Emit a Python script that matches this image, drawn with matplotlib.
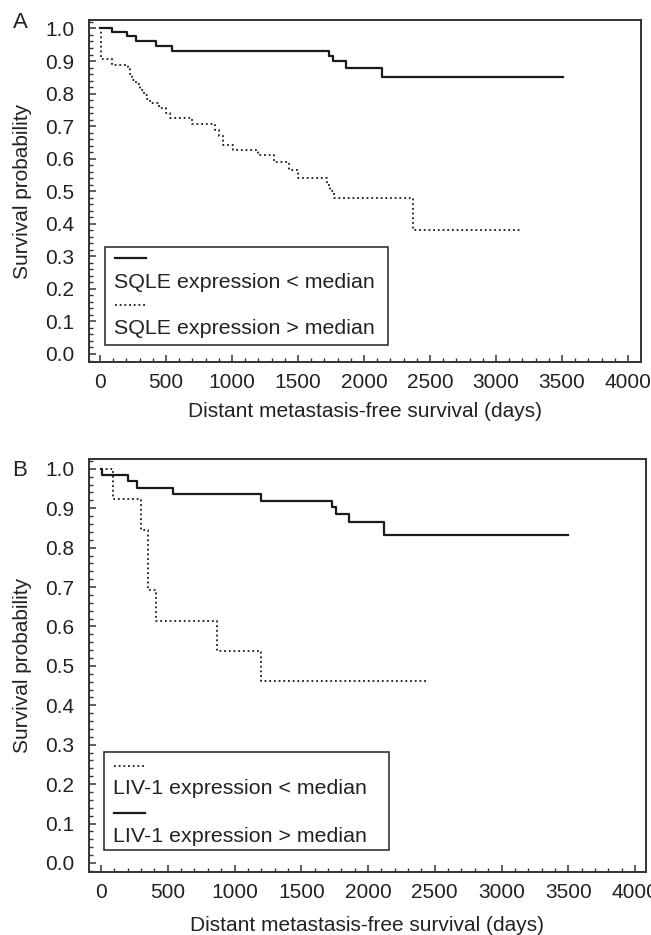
import matplotlib
matplotlib.use("Agg")
import matplotlib.pyplot as plt
from matplotlib.patches import Rectangle
from matplotlib.lines import Line2D
from matplotlib.ticker import MultipleLocator, FormatStrFormatter

plt.rcParams['font.family'] = ['Liberation Sans', 'DejaVu Sans']

# ---------------- data (Kaplan-Meier steps, days / survival probability) ----
sqle_low_t = [0, 88, 202, 273, 422, 543, 1737, 1768, 1861, 2134, 3510]
sqle_low_s = [1.0, 0.990, 0.976, 0.961, 0.946, 0.932, 0.915, 0.899, 0.879, 0.850, 0.850]

sqle_high_t = [0, 10, 88, 210, 225, 245, 275, 300, 330, 355, 380, 450, 500, 530,
               700, 870, 900, 935, 1010, 1200, 1320, 1430, 1500, 1720, 1745,
               1775, 2370, 3190]
sqle_high_s = [1.0, 0.905, 0.887, 0.874, 0.858, 0.843, 0.828, 0.812, 0.797, 0.782,
               0.771, 0.756, 0.741, 0.725, 0.708, 0.689, 0.669, 0.641, 0.626,
               0.610, 0.590, 0.566, 0.541, 0.520, 0.500, 0.478, 0.380, 0.380]

liv_high_t = [0, 5, 205, 267, 537, 1196, 1733, 1760, 1860, 2122, 3500]
liv_high_s = [1.0, 0.985, 0.968, 0.951, 0.936, 0.919, 0.904, 0.885, 0.864, 0.832, 0.832]

liv_low_t = [0, 92, 297, 354, 412, 871, 1199, 2450]
liv_low_s = [1.0, 0.923, 0.846, 0.692, 0.615, 0.538, 0.462, 0.462]

panel_letters = ["A", "B"]
legend_a = ["SQLE expression < median", "SQLE expression > median"]
legend_b = ["LIV-1 expression < median", "LIV-1 expression > median"]
xlabel = "Distant metastasis-free survival (days)"
ylabel = "Survival probability"

FS = 15
LFS = 15.4
TXT_C = "#222222"
LINE_C = "#1a1a1a"
SPINE_C = "#333333"
solid_style = dict(color=LINE_C, lw=1.6, linestyle='-')
dot_style = dict(color=LINE_C, lw=1.3, linestyle=(0, (1, 1.6)))

fig = plt.figure(figsize=(6.51, 9.35), dpi=100)
W, H = 651, 935

def make_axes(left, right, top, bottom):
    ax = fig.add_axes([left / W, 1 - bottom / H, (right - left) / W, (bottom - top) / H])
    ax._px = (left, right, top, bottom)
    return ax

axA = make_axes(89, 641, 20, 362)
axB = make_axes(89, 646, 459, 872)

def style(ax, xlim, ylim, xlabelpad):
    ax.set_xlim(*xlim)
    ax.set_ylim(*ylim)
    ax.xaxis.set_major_locator(MultipleLocator(500))
    ax.xaxis.set_minor_locator(MultipleLocator(100))
    ax.yaxis.set_major_locator(MultipleLocator(0.1))
    ax.yaxis.set_minor_locator(MultipleLocator(0.02))
    ax.yaxis.set_major_formatter(FormatStrFormatter('%.1f'))
    ax.tick_params(which='both', direction='in', color=SPINE_C, labelsize=FS,
                   labelcolor=TXT_C, top=False, right=False)
    ax.tick_params(which='major', length=5, width=1.1)
    ax.tick_params(which='minor', length=2.6, width=1.0)
    ax.tick_params(axis='x', which='major', pad=8)
    ax.tick_params(axis='y', which='major', pad=10.5)
    for sp in ax.spines.values():
        sp.set_color(SPINE_C)
        sp.set_linewidth(1.4)
    ax.set_xlabel(xlabel, fontsize=FS, color=TXT_C, labelpad=xlabelpad)
    ax.set_ylabel(ylabel, fontsize=FS, color=TXT_C)

style(axA, (-83, 4098), (-0.0246, 1.026), 7)
style(axB, (-90, 4082), (-0.023, 1.025), 10)

axA.yaxis.set_label_coords(-0.103, 0.5)
axB.yaxis.set_label_coords(-0.102, 0.5)

# panel A curves
axA.step(sqle_low_t, sqle_low_s, where='post', **solid_style)
axA.step(sqle_high_t, sqle_high_s, where='post', **dot_style)
# panel B curves
axB.step(liv_low_t, liv_low_s, where='post', **dot_style)
axB.step(liv_high_t, liv_high_s, where='post', **solid_style)


def manual_legend(ax, box, entries):
    """box = (left, top, right, bottom) in figure pixels; entries = list of
    (style, label, handle_y_px, text_y_px)."""
    l, r, t, b = ax._px
    def ac(px, py):
        return ((px - l) / (r - l), (b - py) / (b - t))
    bl, bt, br, bb = box
    x0, y0 = ac(bl, bb)
    x1, y1 = ac(br, bt)
    ax.add_patch(Rectangle((x0, y0), x1 - x0, y1 - y0, transform=ax.transAxes,
                           facecolor='white', edgecolor=TXT_C, lw=1.1, zorder=5))
    hx0 = bl + 10
    hx1 = bl + 41
    for st, label, hy, ty in entries:
        a0 = ac(hx0, hy)
        a1 = ac(hx1, hy)
        ax.add_line(Line2D([a0[0], a1[0]], [a0[1], a1[1]], transform=ax.transAxes,
                           zorder=6, **st))
        tp = ac(hx0 - 1, ty)
        ax.text(tp[0], tp[1], label, transform=ax.transAxes, fontsize=LFS,
                color=TXT_C, ha='left', va='center_baseline', zorder=6)

manual_legend(axA, (105, 247, 388, 345),
              [(solid_style, legend_a[0], 258, 280),
               (dot_style, legend_a[1], 305, 326)])
manual_legend(axB, (104, 752, 389, 850),
              [(dot_style, legend_b[0], 766, 786),
               (solid_style, legend_b[1], 813, 834)])

fig.text(20 / W, 1 - 23 / H, panel_letters[0], fontsize=FS + 1, ha='center', va='center', color=TXT_C)
fig.text(20 / W, 1 - 470 / H, panel_letters[1], fontsize=FS + 1, ha='center', va='center', color=TXT_C)

fig.savefig("out.png", dpi=100)
